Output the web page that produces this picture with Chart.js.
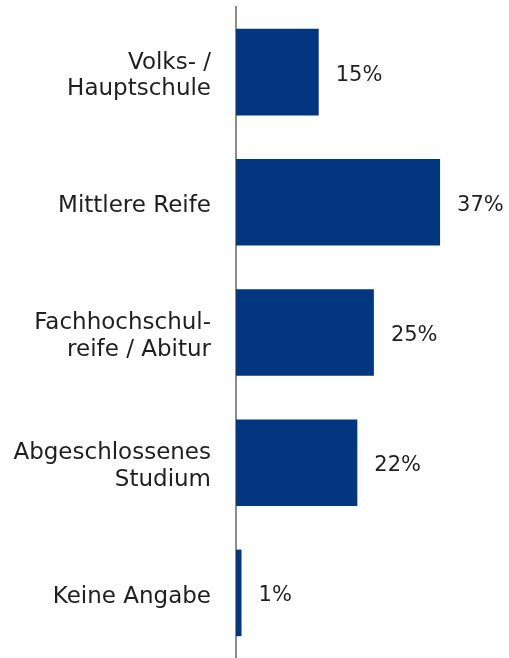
<!DOCTYPE html>
<html>
<head>
<meta charset="utf-8">
<script src="https://cdn.jsdelivr.net/npm/chart.js@4/dist/chart.umd.min.js"></script>
<style>
    html, body { margin: 0; padding: 0; background: #fff; }
    canvas { display: block; }
</style>
</head>
<body>
<canvas id="chart" width="509" height="658"></canvas>
<script>
    // Schulabschluss
    var categories = [
        ['Volks- /', 'Hauptschule'],
        'Mittlere Reife',
        ['Fachhochschul-', 'reife / Abitur'],
        ['Abgeschlossenes', 'Studium'],
        'Keine Angabe'
    ];
    var shares = [15, 37, 25, 22, 1];

    var barColor = '#02367f';
    var textColor = '#1f1f1f';
    var fontFamily = '"DejaVu Sans", Verdana, sans-serif';

    var valueLabels = {
        id: 'valueLabels',
        afterDatasetsDraw: function (chart) {
            var ctx = chart.ctx;
            var meta = chart.getDatasetMeta(0);
            ctx.save();
            ctx.font = '21px ' + fontFamily;
            ctx.fillStyle = textColor;
            ctx.textAlign = 'left';
            ctx.textBaseline = 'middle';
            meta.data.forEach(function (bar, i) {
                ctx.fillText(shares[i] + '%', bar.x + 17, bar.y + 3);
            });
            ctx.restore();
        }
    };

    var context = document.getElementById('chart').getContext('2d');
    var chart = new Chart(context, {
        type: 'bar',
        data: {
            labels: categories,
            datasets: [{
                data: shares,
                backgroundColor: barColor,
                borderWidth: 0,
                categoryPercentage: 1,
                barPercentage: 0.665
            }]
        },
        options: {
            indexAxis: 'y',
            responsive: false,
            animation: false,
            layout: { padding: { top: 7, right: 0, bottom: 0, left: 0 } },
            plugins: {
                legend: { display: false },
                tooltip: { enabled: false }
            },
            scales: {
                x: {
                    display: false,
                    min: 0,
                    max: 49.5
                },
                y: {
                    grid: { display: false, drawTicks: false },
                    border: { display: true, color: '#8c8c8c', width: 2 },
                    ticks: {
                        color: textColor,
                        padding: 25,
                        labelOffset: 4,
                        font: { family: fontFamily, size: 23, lineHeight: 1.16 }
                    },
                    afterFit: function (axis) {
                        axis.width = 236;
                        axis.paddingTop = 0;
                        axis.paddingBottom = 0;
                    }
                }
            }
        },
        plugins: [valueLabels]
    });
</script>
</body>
</html>
